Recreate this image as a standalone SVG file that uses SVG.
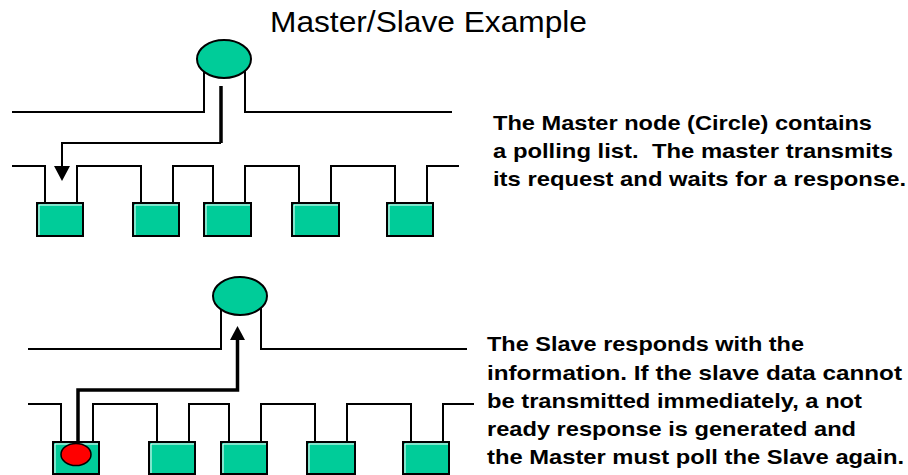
<svg xmlns="http://www.w3.org/2000/svg" width="908" height="475" viewBox="0 0 908 475">
<style>
  .bus { fill: none; stroke: #000; stroke-width: 2; }
  .node { fill: #00CC99; stroke: #000; stroke-width: 2; }
  .hl { fill: none; stroke: #fff; stroke-width: 1; }
  .master { fill: #00CC99; stroke: #000; stroke-width: 2; }
  .flag { fill: #FF0000; stroke: #000; stroke-width: 1.5; }
  .thick { fill: none; stroke: #000; stroke-width: 3.5; }
  .thin { fill: none; stroke: #000; stroke-width: 2; }
  .head { fill: #000; }
  .title { font-family: "Liberation Sans", Arial, sans-serif; font-size: 29px; fill: #000; }
  .note { font-family: "Liberation Sans", Arial, sans-serif; font-size: 21px; font-weight: bold; fill: #000; }
</style>
<rect width="908" height="475" fill="#fff"/>
<text class="title" x="270" y="32" textLength="317" lengthAdjust="spacingAndGlyphs">Master/Slave Example</text>

<g id="connectors">
  <!-- top diagram buses -->
  <path class="bus" d="M12 112 H204 V68 M245 68 V112 H452"/>
  <path class="bus" d="M12 166 H45 V203 M77 203 V166 H141 V203 M173 203 V166 H213 V203 M245 203 V166 H299 V203 M331 203 V166 H395 V203 M427 203 V166 H459"/>
  <!-- top request arrow -->
  <path class="thick" d="M221 86 V143"/>
  <path class="thin" d="M221 143 H62 V167"/>
  <polygon class="head" points="54,166 70,166 62,181"/>
  <!-- bottom diagram buses -->
  <path class="bus" d="M28 349 H221 V305 M261 305 V349 H467"/>
  <path class="bus" d="M28 404 H61 V442 M93 442 V404 H157 V442 M189 442 V404 H229 V442 M261 442 V404 H315 V442 M347 442 V404 H411 V442 M443 442 V404 H474"/>
</g>

<g id="top-master"><ellipse class="master" cx="224" cy="59" rx="27" ry="19"/></g>
<g id="top-slave1"><rect class="node" x="37" y="203" width="46" height="33"/><path class="hl" d="M39 235 V205 H82"/></g>
<g id="top-slave2"><rect class="node" x="133" y="203" width="46" height="33"/><path class="hl" d="M135 235 V205 H178"/></g>
<g id="top-slave3"><rect class="node" x="204" y="203" width="47" height="33"/><path class="hl" d="M206 235 V205 H250"/></g>
<g id="top-slave4"><rect class="node" x="292" y="203" width="47" height="33"/><path class="hl" d="M294 235 V205 H338"/></g>
<g id="top-slave5"><rect class="node" x="387" y="203" width="46" height="33"/><path class="hl" d="M389 235 V205 H432"/></g>

<g id="bottom-master"><ellipse class="master" cx="240" cy="296" rx="27" ry="19"/></g>
<g id="bottom-slave1"><rect class="node" x="53" y="442" width="46" height="32"/><path class="hl" d="M55 473 V444 H98"/><ellipse class="flag" cx="76" cy="454.5" rx="15" ry="11"/></g>
<g id="bottom-slave2"><rect class="node" x="149" y="442" width="46" height="32"/><path class="hl" d="M151 473 V444 H194"/></g>
<g id="bottom-slave3"><rect class="node" x="221" y="442" width="46" height="32"/><path class="hl" d="M223 473 V444 H266"/></g>
<g id="bottom-slave4"><rect class="node" x="307" y="442" width="48" height="32"/><path class="hl" d="M309 473 V444 H354"/></g>
<g id="bottom-slave5"><rect class="node" x="403" y="442" width="46" height="32"/><path class="hl" d="M405 473 V444 H448"/></g>

<g id="response-arrow">
  <path class="thick" d="M78 443 V390 H237.5 V338"/>
  <polygon class="head" points="230,340 245,340 237.5,326"/>
</g>

<g id="note-top">
  <text class="note" x="493" y="130" textLength="379" lengthAdjust="spacingAndGlyphs">The Master node (Circle) contains</text>
  <text class="note" x="493" y="158" textLength="400" lengthAdjust="spacingAndGlyphs">a polling list.&#160; The master transmits</text>
  <text class="note" x="493" y="186" textLength="413" lengthAdjust="spacingAndGlyphs">its request and waits for a response.</text>
</g>
<g id="note-bottom">
  <text class="note" x="487" y="351" textLength="317" lengthAdjust="spacingAndGlyphs">The Slave responds with the</text>
  <text class="note" x="487" y="379.5" textLength="415" lengthAdjust="spacingAndGlyphs">information. If the slave data cannot</text>
  <text class="note" x="487" y="407.5" textLength="375" lengthAdjust="spacingAndGlyphs">be transmitted immediately, a not</text>
  <text class="note" x="487" y="436" textLength="369" lengthAdjust="spacingAndGlyphs">ready response is generated and</text>
  <text class="note" x="487" y="464" textLength="417" lengthAdjust="spacingAndGlyphs">the Master must poll the Slave again.</text>
</g>
</svg>
